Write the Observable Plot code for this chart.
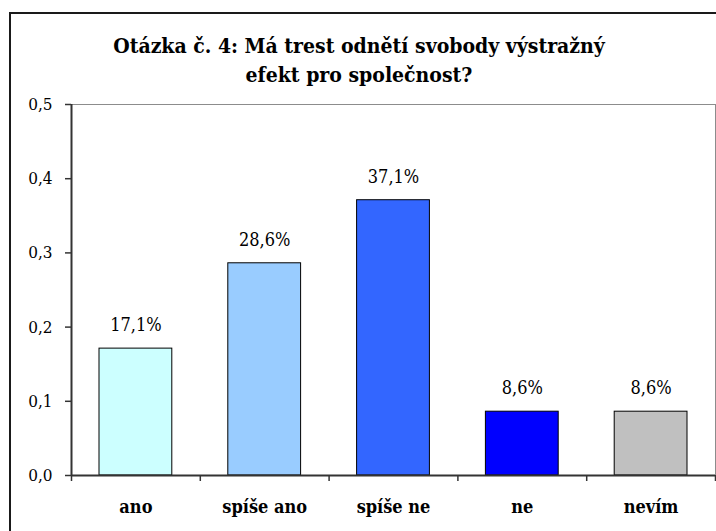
<!DOCTYPE html>
<html>
<head>
<meta charset="utf-8">
<script src="https://cdn.jsdelivr.net/npm/d3@7"></script>
<script src="https://cdn.jsdelivr.net/npm/@observablehq/plot@0.6"></script>
<style>
  html, body { margin: 0; padding: 0; background: #fff; }
  #wrap { position: relative; width: 716px; height: 531px; overflow: hidden; background: #fff; }
  #border { position: absolute; left: 9px; top: 12px; width: 760px; height: 560px; border: 2px solid #1a1a1a; box-sizing: border-box; pointer-events: none; z-index: 3; }
  #title { position: absolute; left: 9px; width: 700px; top: 31px; text-align: center; z-index: 2;
           font-family: "DejaVu Serif Condensed", "DejaVu Serif", serif; font-weight: bold; font-size: 21px; line-height: 29px; color: #000; }
  #chart { position: absolute; left: 0; top: 0; z-index: 1; }
</style>
</head>
<body>
<div id="wrap">
  <div id="chart"></div>
  <div id="title">Otázka č. 4: Má trest odnětí svobody výstražný<br>efekt pro společnost?</div>
  <div id="border"></div>
</div>
<script>
const categories = ["ano", "spíše ano", "spíše ne", "ne", "nevím"];
const values = [0.171, 0.286, 0.371, 0.086, 0.086];
const valueLabels = ["17,1%", "28,6%", "37,1%", "8,6%", "8,6%"];
const barColors = ["#CCFFFF", "#99CCFF", "#3366FF", "#0000FF", "#C0C0C0"];
const yTicks = [0, 0.1, 0.2, 0.3, 0.4, 0.5];

const data = categories.map((c, i) => ({cat: c, i, v: values[i], label: valueLabels[i], color: barColors[i]}));
const boundaries = d3.range(categories.length + 1);
const font = '"DejaVu Serif Condensed", "DejaVu Serif", serif';

const chart = Plot.plot({
  width: 716,
  height: 531,
  marginTop: 104,
  marginBottom: 56,
  marginLeft: 71,
  marginRight: 1,
  style: {background: "transparent", fontFamily: font, color: "#000"},
  x: {type: "linear", domain: [0, categories.length], axis: null, label: null},
  y: {domain: [0, 0.5], axis: null, label: null},
  marks: [
    Plot.frame({stroke: "#8c8c8c", strokeWidth: 1}),
    Plot.rectY(data, {x1: "i", x2: d => d.i + 1, y: "v", fill: "color", stroke: "#000", strokeWidth: 1, insetLeft: 28, insetRight: 28}),
    Plot.ruleY([0], {stroke: "#333", strokeWidth: 2}),
    Plot.ruleX([0], {stroke: "#333", strokeWidth: 2}),
    Plot.axisX({ticks: boundaries, tickFormat: () => "", tickSize: 6, stroke: "#333", strokeWidth: 1.5, label: null}),
    Plot.axisY({ticks: yTicks, tickSize: 6, tickPadding: 13, tickFormat: d => d.toFixed(1).replace(".", ","), fontSize: 17, stroke: "#333", strokeWidth: 1.5, fontFamily: font, label: null}),
    Plot.text(data, {x: d => d.i + 0.5, y: "v", text: "label", dy: -23, fontSize: 18, fill: "#000", fontFamily: font}),
    Plot.text(data, {x: d => d.i + 0.5, y: 0, text: "cat", dy: 32, fontSize: 18, fontWeight: "bold", fill: "#000", fontFamily: font})
  ]
});
document.getElementById("chart").appendChild(chart);
</script>
</body>
</html>
